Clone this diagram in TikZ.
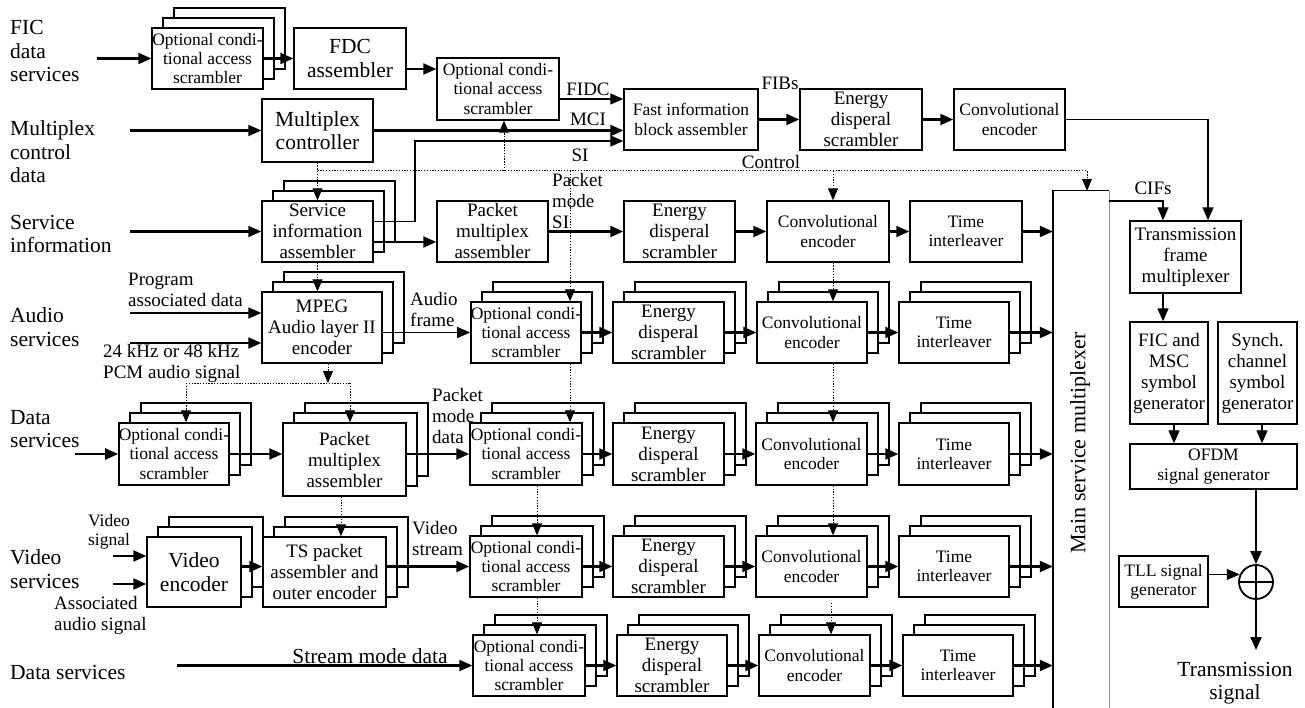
\documentclass[tikz,border=0pt]{standalone}
\usepackage{fontspec}
\setmainfont{Liberation Serif}
\usetikzlibrary{arrows.meta}
\newcommand\Fbig{\fontsize{21.5}{23.5}\selectfont}
\newcommand\Fmid{\fontsize{19}{21}\selectfont}
\newcommand\Fsml{\fontsize{17.5}{19.3}\selectfont}
\newcommand\Fmsm{\fontsize{22}{24}\selectfont}
\tikzset{
  bx/.style={draw, line width=1.4pt, fill=white, align=center, inner sep=0pt},
  thk/.style={line width=2.2pt, -{Triangle[length=13pt,width=11pt]}},
  thn/.style={line width=1.3pt, -{Triangle[length=13pt,width=11pt]}},
  dotarr/.style={line width=1pt, dash pattern=on 1.3pt off 1.5pt, -{Triangle[length=12pt,width=10pt]}},
  dotln/.style={line width=1pt, dash pattern=on 1.3pt off 1.5pt},
  lbl/.style={inner sep=0pt},
}
\newcommand\mkbox[7]{%
  \pgfmathsetmacro\myW{#4-#2}\pgfmathsetmacro\myH{#5-#3}%
  \pgfmathsetmacro\myX{(#2+#4)/2}\pgfmathsetmacro\myY{(#3+#5)/2}%
  \node[bx, font=#6, minimum width=\myW pt, minimum height=\myH pt] (#1) at (\myX,\myY) {#7};}
\newcommand\mkstack[7]{%
  \pgfmathsetmacro\myW{#4-#2}\pgfmathsetmacro\myH{#5-#3}%
  \pgfmathsetmacro\myX{(#2+#4)/2}\pgfmathsetmacro\myY{(#3+#5)/2}%
  \node[bx, minimum width=\myW pt, minimum height=\myH pt] (#1-b2) at (\myX+22,\myY-20) {};
  \node[bx, minimum width=\myW pt, minimum height=\myH pt] (#1-b1) at (\myX+11,\myY-10) {};
  \node[bx, font=#6, minimum width=\myW pt, minimum height=\myH pt] (#1) at (\myX,\myY) {#7};}
\newcommand\OCAtxt{Optional condi-\\tional access\\scrambler}
\newcommand\EDtxt{Energy\\disperal\\scrambler}
\newcommand\CEtxt{Convolutional\\encoder}
\newcommand\TItxt{Time\\interleaver}
\begin{document}
\begin{tikzpicture}[x=1pt,y=-1pt]
\useasboundingbox (0,0) rectangle (1305,708);

% ---------- left labels
\node[lbl,anchor=west,align=left,font=\Fbig] (tFIC) at (10,51) {FIC\\data\\services};
\node[lbl,anchor=west,align=left,font=\Fbig] (tMC) at (10,152) {Multiplex\\control\\data};
\node[lbl,anchor=west,align=left,font=\Fbig] (tSI) at (10,234) {Service\\information};
\node[lbl,anchor=west,align=left,font=\Fbig] (tAU) at (10,327) {Audio\\services};
\node[lbl,anchor=west,align=left,font=\Fbig] (tDA) at (10,429) {Data\\services};
\node[lbl,anchor=west,align=left,font=\Fbig] (tVI) at (10,569) {Video\\services};
\node[lbl,anchor=west,font=\Fbig] (tST) at (10,672) {Data services};

% ---------- top rows
\mkstack{focA}{152}{28}{263}{89}{\Fsml}{\OCAtxt}
\mkbox{fdc}{294}{28}{406}{89}{\Fbig}{FDC\\assembler}
\mkbox{toca}{437}{58}{559}{120}{\Fsml}{\OCAtxt}
\mkbox{mc}{262}{99}{373}{162}{\Fbig}{Multiplex\\controller}
\mkbox{fib}{624}{89}{758}{150}{\Fsml}{Fast information\\block assembler}
\mkbox{ted}{800}{89}{922}{150}{\Fmid}{\EDtxt}
\mkbox{tce}{954}{89}{1065}{150}{\Fsml}{\CEtxt}

% ---------- SI row
\mkstack{sia}{262}{201}{373}{262}{\Fmid}{Service\\information\\assembler}
\mkbox{spma}{437}{201}{548}{262}{\Fmid}{Packet\\multiplex\\assembler}
\mkbox{sed}{624}{201}{735}{262}{\Fmid}{\EDtxt}
\mkbox{sce}{767}{201}{889}{262}{\Fsml}{\CEtxt}
\mkbox{sti}{910}{201}{1022}{262}{\Fsml}{\TItxt}

% ---------- audio row
\mkstack{mpeg}{262}{292}{382}{363}{\Fmid}{MPEG\\Audio layer II\\encoder}
\mkstack{aoca}{471}{302}{581}{363}{\Fsml}{\OCAtxt}
\mkstack{aed}{613}{302}{724}{363}{\Fmid}{\EDtxt}
\mkstack{ace}{757}{302}{867}{363}{\Fsml}{\CEtxt}
\mkstack{ati}{899}{302}{1009}{363}{\Fsml}{\TItxt}

% ---------- data row
\mkstack{doca}{119}{423}{229}{485}{\Fsml}{\OCAtxt}
\mkstack{dpma}{283}{423}{406}{496}{\Fmid}{Packet\\multiplex\\assembler}
\mkstack{doca2}{470}{423}{582}{485}{\Fsml}{\OCAtxt}
\mkstack{ded}{613}{423}{724}{485}{\Fmid}{\EDtxt}
\mkstack{dce}{756}{423}{867}{485}{\Fsml}{\CEtxt}
\mkstack{dti}{899}{423}{1009}{485}{\Fsml}{\TItxt}

% ---------- video row
\mkstack{ve}{147}{537}{241}{607}{\Fbig}{Video\\encoder}
\mkstack{ts}{263}{537}{386}{607}{\Fmid}{TS packet\\assembler and\\outer encoder}
\mkstack{voca}{470}{536}{582}{597}{\Fsml}{\OCAtxt}
\mkstack{ved}{613}{536}{724}{597}{\Fmid}{\EDtxt}
\mkstack{vce}{756}{536}{867}{597}{\Fsml}{\CEtxt}
\mkstack{vti}{899}{536}{1009}{597}{\Fsml}{\TItxt}

% ---------- stream row
\mkstack{xoca}{473}{635}{585}{696}{\Fsml}{\OCAtxt}
\mkstack{xed}{617}{635}{727}{696}{\Fmid}{\EDtxt}
\mkstack{xce}{759}{635}{870}{696}{\Fsml}{\CEtxt}
\mkstack{xti}{903}{635}{1013}{696}{\Fsml}{\TItxt}

% ---------- main service multiplexer
\node[minimum width=56pt, minimum height=517pt, inner sep=0pt] (msm) at (1081,449.5) {};
\draw[line width=1.4pt] (msm.south west) -- (msm.north west) -- (msm.north east);
\draw[line width=1.4pt, black!45] (msm.north east) -- (msm.south east);
\node[lbl, rotate=90, font=\Fmsm] (msmt) at (1080,443) {Main service multiplexer};

% ---------- right column
\mkbox{tfm}{1130}{221}{1241}{293}{\Fmid}{Transmission\\frame\\multiplexer}
\mkbox{fms}{1130}{322}{1208}{424}{\Fmid}{FIC and\\MSC\\symbol\\generator}
\mkbox{syn}{1218}{322}{1297}{424}{\Fmid}{Synch.\\channel\\symbol\\generator}
\mkbox{ofdm}{1130}{444}{1297}{489}{\Fsml}{OFDM\\signal generator}
\mkbox{tll}{1119}{556}{1208}{607}{\Fsml}{TLL signal\\generator}
\node[draw, circle, line width=1.8pt, minimum size=34pt, inner sep=0pt] (sum) at (1256,582) {};
\draw[line width=1.8pt] (sum.north) -- (sum.south) (sum.west) -- (sum.east);
\coordinate (outp) at (1256,650);
\node[lbl, font=\Fbig, align=center] (tout) at (1235,683) {Transmission\\signal};

% ---------- labels
\node[lbl,font=\Fmid] (lFIDC) at (588,89) {FIDC};
\node[lbl,font=\Fmid] (lMCI) at (588,119) {MCI};
\node[lbl,font=\Fmid] (lSI) at (580,155) {SI};
\node[lbl,font=\Fmid] (lFIB) at (780,83) {FIBs};
\node[lbl,font=\Fmid] (lCtl) at (771,162) {Control};
\node[lbl,font=\Fmid] (lCIF) at (1153,188) {CIFs};
\node[lbl,font=\Fmid,anchor=west,align=left] (lPMSI) at (552,201) {Packet\\mode\\SI};
\node[lbl,font=\Fmid,anchor=west,align=left] (lAF) at (410,310) {Audio\\frame};
\node[lbl,font=\Fmid,anchor=west,align=left] (lPMD) at (432,416) {Packet\\mode\\data};
\node[lbl,font=\Fmid,anchor=west,align=left] (lVS) at (412,538) {Video\\stream};
\node[lbl,font=\Fbig] (lSMD) at (370,656) {Stream mode data};
\node[lbl,font=\Fmid,anchor=west,align=left] (lPAD) at (128,290) {Program\\associated data};
\node[lbl,font=\Fmid,anchor=west,align=left] (lPCM) at (103,363) {24 kHz or 48 kHz\\PCM audio signal};
\node[lbl,font=\Fsml,align=center] (lVsig) at (109,532) {Video\\signal};
\node[lbl,font=\Fmid,anchor=west,align=left] (lAas) at (54,615) {Associated\\audio signal};

% ---------- inputs
\coordinate (iFIC) at (97,58.5);   \draw[thk] (iFIC) -- (iFIC -| focA.west);
\coordinate (iMC) at (130,130.5);  \draw[thk] (iMC) -- (iMC -| mc.west);
\coordinate (iSI) at (130,231.5);  \draw[thk] (iSI) -- (iSI -| sia.west);
\coordinate (iAU1) at (130,313);   \draw[thn] (iAU1) -- (iAU1 -| mpeg.west);
\coordinate (iAU2) at (130,343);   \draw[thk] (iAU2) -- (iAU2 -| mpeg.west);
\coordinate (iDA) at (75,454);     \draw[thk] (iDA) -- (iDA -| doca.west);
\coordinate (iVI1) at (113,556);   \draw[thk] (iVI1) -- (iVI1 -| ve.west);
\coordinate (iVI2) at (113,584);   \draw[thk] (iVI2) -- (iVI2 -| ve.west);
\coordinate (iST) at (177,665.5);  \draw[thk] (iST) -- (iST -| xoca.west);

% ---------- top connections
\draw[thk] (focA.east) -- (focA.east -| fdc.west);
\coordinate (yA) at (0,69);
\draw[thk] (fdc.east |- yA) -- (toca.west |- yA);
\coordinate (yF) at (0,99);
\draw[thn] (toca.east |- yF) -- (fib.west |- yF);
\draw[thk] (mc.east) -- (mc.east -| fib.west);
\coordinate (siA) at (415,221.5); \coordinate (siB) at (415,141);
\draw[thn] (sia.east |- siA) -- (siA) -- (siB) -- (siB -| fib.west);
\draw[thk] (fib.east) -- (ted.west);
\draw[thk] (ted.east) -- (tce.west);
\coordinate (ceT) at (1208,119.5);
\draw[thn] (tce.east) -- (ceT) -- (ceT |- tfm.north);

% ---------- SI row connections
\coordinate (yS2) at (0,242);
\draw[thk] (sia.east |- yS2) -- (spma.west |- yS2);
\draw[thk] (spma.east) -- (sed.west);
\draw[thk] (sed.east) -- (sce.west);
\draw[thk] (sce.east) -- (sti.west);
\draw[thk] (sti.east) -- (sti.east -| msm.west);

% ---------- audio row
\draw[thn] (mpeg.east |- aoca.west) -- (aoca.west);
\draw[thk] (aoca.east) -- (aed.west);
\draw[thk] (aed.east) -- (ace.west);
\draw[thk] (ace.east) -- (ati.west);
\draw[thk] (ati.east) -- (ati.east -| msm.west);

% ---------- data row
\draw[thk] (doca.east) -- (doca.east -| dpma.west);
\draw[thk] (dpma.east |- doca2.west) -- (doca2.west);
\draw[thk] (doca2.east) -- (ded.west);
\draw[thk] (ded.east) -- (dce.west);
\draw[thk] (dce.east) -- (dti.west);
\draw[thk] (dti.east) -- (dti.east -| msm.west);

% ---------- video row
\draw[thk] (ve.east |- voca.west) -- (ts.west |- voca.west);
\draw[thk] (ts.east |- voca.west) -- (voca.west);
\draw[thk] (voca.east) -- (ved.west);
\draw[thk] (ved.east) -- (vce.west);
\draw[thk] (vce.east) -- (vti.west);
\draw[thk] (vti.east) -- (vti.east -| msm.west);

% ---------- stream row
\draw[thk] (xoca.east) -- (xed.west);
\draw[thk] (xed.east) -- (xce.west);
\draw[thk] (xce.east) -- (xti.west);
\draw[thk] (xti.east) -- (xti.east -| msm.west);

% ---------- right column connections
\coordinate (cif) at (1163,201);
\draw[thn] (msm.east |- cif) -- (cif) -- (cif |- tfm.north);
\draw[thn] (cif |- tfm.south) -- (cif |- fms.north);
\coordinate (xf) at (1174,0); \draw[thn] (xf |- fms.south) -- (xf |- ofdm.north);
\coordinate (xs) at (1262,0); \draw[thn] (xs |- syn.south) -- (xs |- ofdm.north);
\draw[thk] (sum.north |- ofdm.south) -- (sum.north);
\draw[thn] (tll.east |- sum.155) -- (sum.155);
\draw[thk] (sum.south) -- (outp);

% ---------- dotted control lines
\draw[dotarr] (mc.south) -- (sia.north);
\coordinate (cb0) at (317.5,171); \coordinate (cb1) at (1087,171);
\draw[dotarr] (cb0) -- (cb1) -- (cb1 |- msm.north);
\coordinate (cb2) at (504,171); \draw[dotarr] (cb2) -- (cb2 |- toca.south);
\coordinate (cb3) at (570,171); \draw[dotarr] (cb3) -- (cb3 |- aoca.north);
\draw[dotarr] (cb3 |- aoca.south) -- (cb3 |- doca2.north);
\coordinate (xv) at (537,0);
\draw[dotarr] (xv |- doca2.south) -- (xv |- voca.north);
\draw[dotarr] (xv |- voca.south) -- (xv |- xoca.north);
\coordinate (cb4) at (833,171);
\draw[dotarr] (cb4) -- (cb4 |- sce.north);
\draw[dotarr] (cb4 |- sce.south) -- (cb4 |- ace.north);
\draw[dotarr] (cb4 |- ace.south) -- (cb4 |- dce.north);
\draw[dotarr] (cb4 |- dce.south) -- (cb4 |- vce.north);
\coordinate (c12) at (831,603); \draw[dotarr] (c12) -- (c12 |- xce.north);
\draw[dotarr] (sia.south) -- (sia.south |- mpeg.north);
\coordinate (dA) at (328,383); \draw[dotarr] (dA |- mpeg.south) -- (dA);
\coordinate (dL) at (186,383); \coordinate (dR) at (350,383);
\draw[dotln] (dL) -- (dR);
\draw[dotarr] (dL) -- (dL |- doca.north);
\draw[dotarr] (dR) -- (dR |- dpma.north);
\coordinate (xd) at (341,0); \draw[dotarr] (xd |- dpma.south) -- (xd |- ts.north);
\end{tikzpicture}
\end{document}
